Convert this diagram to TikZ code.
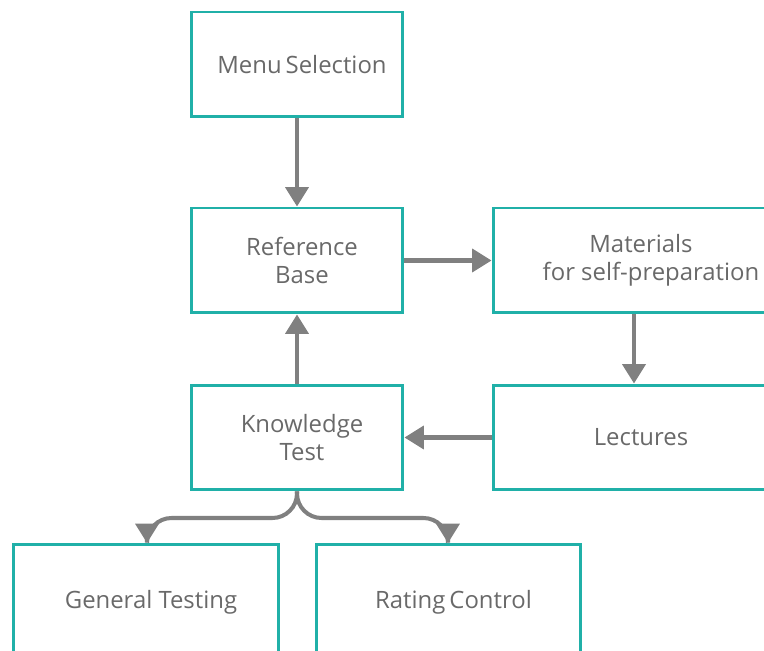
\documentclass[tikz,border=0pt]{standalone}
\usepackage{fontspec}
\setmainfont{Open Sans}
\usetikzlibrary{arrows.meta, positioning}

\definecolor{boxteal}{RGB}{32,176,168}
\definecolor{arrowgray}{RGB}{128,128,128}
\definecolor{textgray}{RGB}{105,105,105}

\begin{document}
\begin{tikzpicture}[x=0.02cm, y=-0.02cm,
  >={Triangle[width=13pt, length=11pt]},
  block/.style={draw=boxteal, line width=1.7pt, minimum width=4.24cm,
    minimum height=2.1cm, align=center, text=textgray, font=\fontsize{13.6}{16}\selectfont},
  wide/.style={block, minimum width=5.92cm},
  flow/.style={->, draw=arrowgray, line width=2.3pt}]

\useasboundingbox (0,0) rectangle (764,651);

% Upper column of boxes
\node[block] (menu) at (297,64.5) {\hspace*{0.2cm}Menu\,Selection};
\node[block] (refbase) at (297,260.5) {\hspace*{0.2cm}Reference\\\hspace*{0.2cm}Base};
\node[block] (knowtest) at (297,437.5) {\hspace*{0.2cm}Knowledge\\\hspace*{0.2cm}Test};

% Right column, cut off by the page edge
\node[wide] (materials) at (641,260.5) {Materials\\\hspace*{0.4cm}for self-preparation};
\node[wide] (lectures) at (641,437.5) {Lectures};

% Bottom row, cut off by the page edge
\node[block, minimum width=5.32cm, minimum height=2.3cm] (general) at (146,602) {\hspace*{0.2cm}General Testing};
\node[block, minimum width=5.3cm, minimum height=2.3cm] (rating) at (448.5,602) {\hspace*{0.2cm}Rating\,Control};

% Columns where the arrows meet the boxes
\coordinate (matcol) at (634,0);
\coordinate (gencol) at (147,0);
\coordinate (ratcol) at (448,0);

% Arrows between the boxes
\draw[flow] (menu) -- (refbase);
\draw[flow] (refbase) -- (materials);
\draw[flow] (materials.south -| matcol) -- (lectures.north -| matcol);
\draw[flow] (lectures) -- (knowtest);
\draw[flow] (knowtest) -- (refbase);

% Split below the knowledge test
\coordinate (split) at (297,518);
\draw[flow, rounded corners=14pt] (knowtest.south) -- (split) -- (split -| gencol) -- (general.north -| gencol);
\draw[flow, rounded corners=14pt] (knowtest.south) -- (split) -- (split -| ratcol) -- (rating.north -| ratcol);

\end{tikzpicture}
\end{document}
